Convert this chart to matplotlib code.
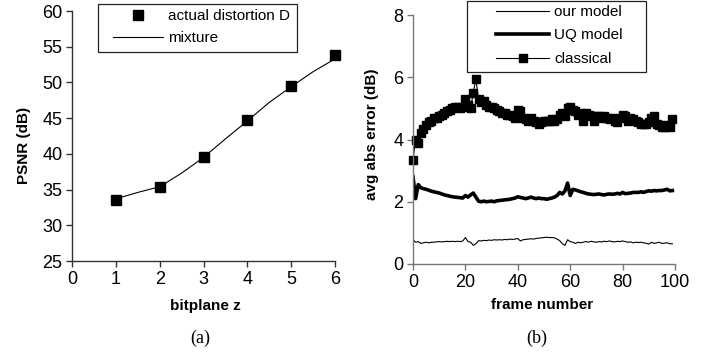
import numpy as np
import matplotlib
matplotlib.use("Agg")
import matplotlib.pyplot as plt
from matplotlib.patches import Rectangle

plt.rcParams['font.family'] = ['Liberation Sans', 'DejaVu Sans']

# (a) PSNR vs bitplane
bitplanes = [1, 2, 3, 4, 5, 6]
psnr_actual = [33.55, 35.4, 39.6, 44.8, 49.5, 53.85]
mix_z = [1, 1.5, 2, 2.5, 3, 3.5, 4, 4.5, 5, 5.5, 6]
psnr_mixture = [33.7, 34.6, 35.4, 37.3, 39.5, 42.1, 44.6, 47.2, 49.4, 51.5, 53.3]

# (b) avg abs error per frame
frames = list(range(100))
classical = [3.35, 4.0, 3.9, 4.2, 4.35, 4.45, 4.55, 4.6, 4.7, 4.7,
             4.75, 4.8, 4.85, 4.9, 4.95, 5.0, 5.05, 5.05, 5.0, 5.05,
             5.3, 5.1, 5.0, 5.5, 5.95, 5.3, 5.2, 5.25, 5.1, 5.05,
             5.05, 5.0, 4.95, 4.9, 4.85, 4.85, 4.8, 4.8, 4.75, 4.7,
             4.95, 4.9, 4.7, 4.65, 4.6, 4.7, 4.6, 4.55, 4.5, 4.55,
             4.6, 4.6, 4.6, 4.65, 4.6, 4.65, 4.8, 4.85, 4.75, 5.0,
             5.05, 4.95, 4.9, 4.8, 4.85, 4.6, 4.85, 4.8, 4.75, 4.6,
             4.75, 4.75, 4.7, 4.75, 4.7, 4.65, 4.7, 4.6, 4.55, 4.7,
             4.8, 4.75, 4.6, 4.7, 4.65, 4.6, 4.55, 4.5, 4.5, 4.5,
             4.55, 4.7, 4.75, 4.5, 4.45, 4.4, 4.4, 4.45, 4.4, 4.65]
uq_model = [2.8, 2.1, 2.55, 2.45, 2.42, 2.4, 2.37, 2.34, 2.32, 2.3,
            2.28, 2.25, 2.22, 2.2, 2.18, 2.16, 2.15, 2.14, 2.13, 2.12,
            2.2, 2.15, 2.22, 2.28, 2.15, 2.02, 2.0, 2.02, 2.0, 2.01,
            2.02, 2.0, 2.03, 2.04, 2.05, 2.06, 2.07, 2.08, 2.1, 2.12,
            2.16, 2.14, 2.12, 2.1, 2.12, 2.15, 2.12, 2.1, 2.12, 2.1,
            2.1, 2.08, 2.1, 2.12, 2.15, 2.2, 2.3, 2.25, 2.35, 2.6,
            2.2, 2.4, 2.38, 2.35, 2.32, 2.3, 2.27, 2.25, 2.24, 2.23,
            2.24, 2.25, 2.23, 2.22, 2.24, 2.25, 2.24, 2.25, 2.27, 2.25,
            2.3, 2.26, 2.27, 2.28, 2.3, 2.3, 2.3, 2.32, 2.3, 2.33,
            2.35, 2.34, 2.36, 2.35, 2.36, 2.36, 2.38, 2.4, 2.35, 2.36]
our_model = [0.78, 0.7, 0.72, 0.66, 0.68, 0.7, 0.68, 0.7, 0.7, 0.71,
             0.72, 0.71, 0.72, 0.73, 0.72, 0.73, 0.72, 0.73, 0.72, 0.74,
             0.85, 0.72, 0.7, 0.6, 0.65, 0.75, 0.74, 0.76, 0.75, 0.77,
             0.76, 0.78, 0.77, 0.78, 0.77, 0.79, 0.78, 0.8, 0.79, 0.8,
             0.82, 0.74, 0.78, 0.79, 0.8, 0.81, 0.8, 0.82, 0.83, 0.84,
             0.85, 0.86, 0.85, 0.85, 0.84, 0.8, 0.75, 0.65, 0.6, 0.78,
             0.72, 0.7, 0.66, 0.7, 0.68, 0.7, 0.72, 0.7, 0.73, 0.71,
             0.7, 0.72, 0.71, 0.73, 0.72, 0.74, 0.72, 0.71, 0.73, 0.72,
             0.74, 0.72, 0.7, 0.71, 0.68, 0.7, 0.69, 0.7, 0.68, 0.67,
             0.64, 0.7, 0.66, 0.68, 0.7, 0.66, 0.67, 0.68, 0.65, 0.65]

W, H = 711, 354
fig = plt.figure(figsize=(W / 100, H / 100), dpi=100)


def px_axes(x0, y0, x1, y1):
    return fig.add_axes([x0 / W, 1 - y1 / H, (x1 - x0) / W, (y1 - y0) / H])


def style_axes(ax, col):
    for s in ['top', 'right']:
        ax.spines[s].set_visible(False)
    for s in ['left', 'bottom']:
        ax.spines[s].set_color(col)
        ax.spines[s].set_linewidth(1.0)
    ax.tick_params(direction='out', length=4, width=1.0, color=col, labelsize=13, pad=3)


# ---- panel (a)
ax1 = px_axes(72, 11, 335, 261)
ax1.plot(mix_z, psnr_mixture, color='black', lw=0.8, label='mixture')
ax1.plot(bitplanes, psnr_actual, ls='none', marker='s', ms=6.5, color='black',
         label='actual distortion D', clip_on=False)
ax1.set_xlim(0, 6)
ax1.set_ylim(25, 60)
ax1.set_xticks(range(0, 7))
ax1.set_yticks(range(25, 61, 5))
style_axes(ax1, '#333333')

h, l = ax1.get_legend_handles_labels()
fig.legend([h[1], h[0]], [l[1], l[0]], loc='upper left', frameon=False,
           bbox_to_anchor=(113 / W, 1 - 9 / H), bbox_transform=fig.transFigure,
           borderpad=0, borderaxespad=0, handlelength=3.3, handletextpad=0.3,
           labelspacing=0.55, fontsize=11, numpoints=1)
fig.add_artist(Rectangle((98 / W, 1 - 52 / H), 199 / W, 48 / H, transform=fig.transFigure,
                         fill=False, ec='#222222', lw=0.9))

fig.text(24 / W, 1 - 145 / H, 'PSNR (dB)', rotation=90, ha='center', va='center',
         fontsize=11, fontweight='bold')
fig.text(205 / W, 1 - 306 / H, 'bitplane z', ha='center', va='center',
         fontsize=11, fontweight='bold')
fig.text(200 / W, 1 - 338 / H, '(a)', ha='center', va='center', fontsize=13,
         family=['Liberation Serif', 'DejaVu Serif'])

# ---- panel (b)
ax2 = px_axes(413, 15, 675, 264)
ax2.plot(frames, our_model, color='black', lw=0.8, label='our model')
ax2.plot(frames, uq_model, color='black', lw=2.6, label='UQ model')
ax2.plot(frames, classical, color='black', lw=0.8, marker='s', ms=6,
         label='classical', clip_on=False)
ax2.set_xlim(0, 100)
ax2.set_ylim(0, 8)
ax2.set_xticks(range(0, 101, 20))
ax2.set_yticks(range(0, 9, 2))
style_axes(ax2, '#777777')

fig.legend(*ax2.get_legend_handles_labels(), loc='upper left', frameon=False,
           bbox_to_anchor=(496 / W, 1 - 5 / H), bbox_transform=fig.transFigure,
           borderpad=0, borderaxespad=0, handlelength=3.5, handletextpad=0.3,
           labelspacing=0.62, fontsize=11, numpoints=1, markerscale=0.9)
fig.add_artist(Rectangle((467 / W, 1 - 72 / H), 179 / W, 71 / H, transform=fig.transFigure,
                         fill=False, ec='#222222', lw=0.9))

fig.text(372 / W, 1 - 134 / H, 'avg abs error (dB)', rotation=90, ha='center', va='center',
         fontsize=11, fontweight='bold')
fig.text(542 / W, 1 - 305 / H, 'frame number', ha='center', va='center',
         fontsize=11, fontweight='bold')
fig.text(537 / W, 1 - 338 / H, '(b)', ha='center', va='center', fontsize=13,
         family=['Liberation Serif', 'DejaVu Serif'])

fig.savefig('out.png', dpi=100)
